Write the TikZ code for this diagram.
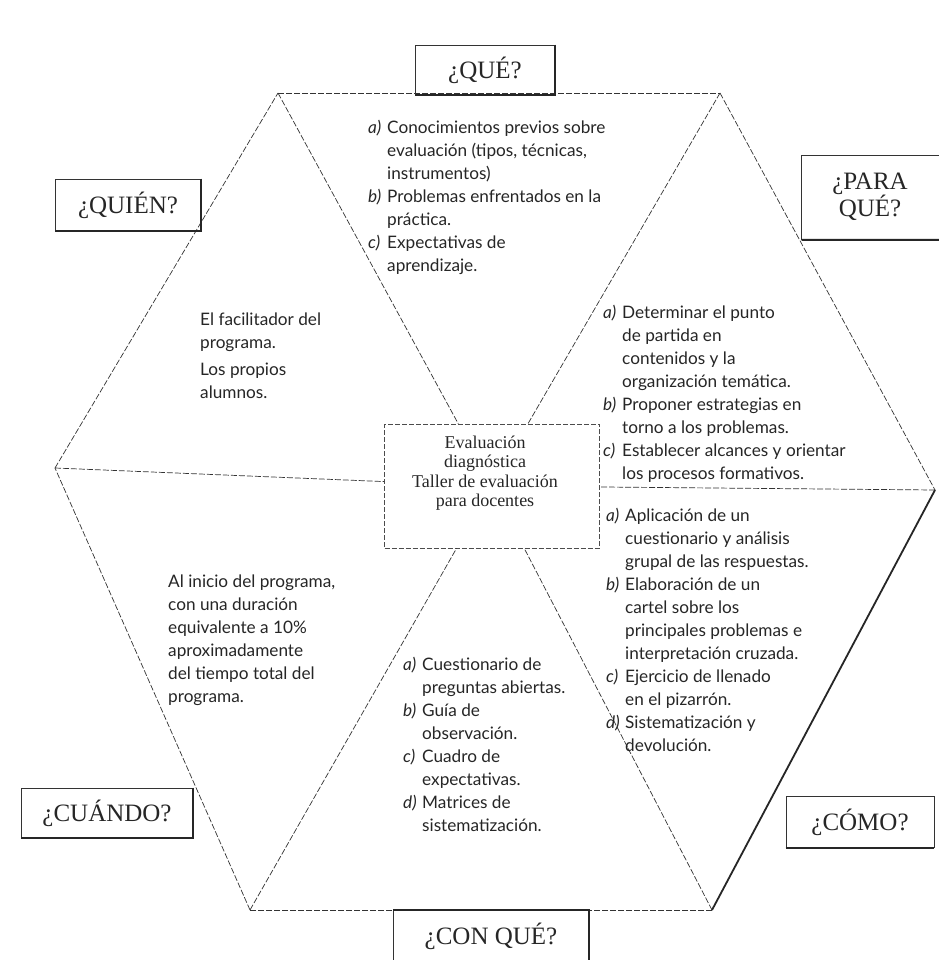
\documentclass[tikz,border=0pt]{standalone}
\usepackage{fontspec}
\setmainfont{Lato}
\newfontfamily\hdrfont{Liberation Serif}
\newcommand{\itm}[1]{\makebox[19pt][l]{\textit{#1}}}
\newcommand{\ind}{\hspace*{19pt}}
\begin{document}
\begin{tikzpicture}[x=1pt,y=-1pt,
  hexline/.style={line width=0.7pt, dash pattern=on 6pt off 2pt, black!80},
  heavyline/.style={line width=1.8pt, black!85},
  qbox/.style={draw=black!80, line width=0.6pt, font=\hdrfont\fontsize{25}{27}\selectfont, align=center, inner sep=2pt, text=black!85},
  thinline/.style={line width=0.6pt, black!80},
  shadowline/.style={line width=2pt, black!85},
  txt/.style={anchor=north west, align=left, inner sep=0pt, font=\fontsize{17.2}{23}\selectfont, text=black!85},
  centerbox/.style={draw=black!70, line width=0.6pt, dash pattern=on 5pt off 2pt, minimum width=215pt, minimum height=124pt},
  centertxt/.style={align=center, inner sep=0pt, font=\hdrfont\fontsize{18}{19.5}\selectfont, text=black!85}
]
\useasboundingbox (0,0) rectangle (938,960);
\fill[white] (0,0) rectangle (938,960);

% hexagon vertices
\coordinate (TL) at (278,93);
\coordinate (TR) at (720,93);
\coordinate (R) at (935,490);
\coordinate (BR) at (712,910);
\coordinate (BL) at (250,910);
\coordinate (L) at (55,468);

% central box
\node[centerbox] (c) at (492,486) {};
\node[centertxt] (ct) at (485,473) {Evaluación\\diagnóstica\\Taller de evaluación\\para docentes};

% hexagon edges
\draw[hexline] (TL) -- (TR);
\draw[hexline] (TR) -- (R);
\draw[heavyline] (R) -- (BR);
\draw[hexline] (BR) -- (BL);
\draw[hexline] (BL) -- (L);
\draw[hexline] (L) -- (TL);

% spokes
\draw[hexline] (TL) -- (c);
\draw[hexline] (TR) -- (c);
\draw[hexline] (L) -- (c);
\draw[hexline] (R) -- (c);
\draw[hexline] (BL) -- (c);
\draw[hexline] (BR) -- (c);

% question boxes
\node[qbox, minimum width=140pt, minimum height=50pt] (que) at (485,70) {¿QUÉ?};
\draw[shadowline] (que.north east) -- (que.south east) -- (que.south west);

\node[qbox, minimum width=145pt, minimum height=52pt] (quien) at (128,205) {¿QUIÉN?};
\draw[shadowline] (quien.north east) -- (quien.south east) -- (quien.south west);

\node[qbox, draw=none, minimum width=136pt, minimum height=85pt, fill=white] (para) at (870,197) {¿PARA\\QUÉ?};
\coordinate (paraend) at (945,155);
\coordinate (paraendb) at (945,240);
\draw[thinline] (paraend) -- (paraend -| para.west) -- (para.south west);
\draw[shadowline] (para.south west) -- (paraendb);

\node[qbox, minimum width=171pt, minimum height=50pt] (cuando) at (107,813) {¿CUÁNDO?};
\draw[shadowline] (cuando.north east) -- (cuando.south east) -- (cuando.south west);

\node[qbox, minimum width=148pt, minimum height=51pt, fill=white] (como) at (860,822) {¿CÓMO?};
\draw[shadowline] (como.south west) -- (como.south east);

\node[qbox, minimum width=195pt, minimum height=52pt, fill=white] (conque) at (491,936) {¿CON QUÉ?};
\draw[shadowline] (conque.north west) -- (conque.north east) -- (conque.south east);

% texts
\node[txt] (tque) at (368,120) {\itm{a)}Conocimientos previos sobre\\
\ind evaluación (tipos, técnicas,\\
\ind instrumentos)\\
\itm{b)}Problemas enfrentados en la\\
\ind práctica.\\
\itm{c)}Expectativas de\\
\ind aprendizaje.};

\node[txt] (tquien) at (200,313) {El facilitador del\\programa.\\[4pt]Los propios\\alumnos.};

\node[txt] (tpara) at (603,305) {\itm{a)}Determinar el punto\\
\ind de partida en\\
\ind contenidos y la\\
\ind organización temática.\\
\itm{b)}Proponer estrategias en\\
\ind torno a los problemas.\\
\itm{c)}Establecer alcances y orientar\\
\ind los procesos formativos.};

\node[txt] (tcomo) at (606,508) {\itm{a)}Aplicación de un\\
\ind cuestionario y análisis\\
\ind grupal de las respuestas.\\
\itm{b)}Elaboración de un\\
\ind cartel sobre los\\
\ind principales problemas e\\
\ind interpretación cruzada.\\
\itm{c)}Ejercicio de llenado\\
\ind en el pizarrón.\\
\itm{d)}Sistematización y\\
\ind devolución.};

\node[txt] (tcuando) at (168,575) {Al inicio del programa,\\con una duración\\equivalente a 10\%\\aproximadamente\\del tiempo total del\\programa.};

\node[txt] (tconque) at (403,657) {\itm{a)}Cuestionario de\\
\ind preguntas abiertas.\\
\itm{b)}Guía de\\
\ind observación.\\
\itm{c)}Cuadro de\\
\ind expectativas.\\
\itm{d)}Matrices de\\
\ind sistematización.};
\end{tikzpicture}
\end{document}
